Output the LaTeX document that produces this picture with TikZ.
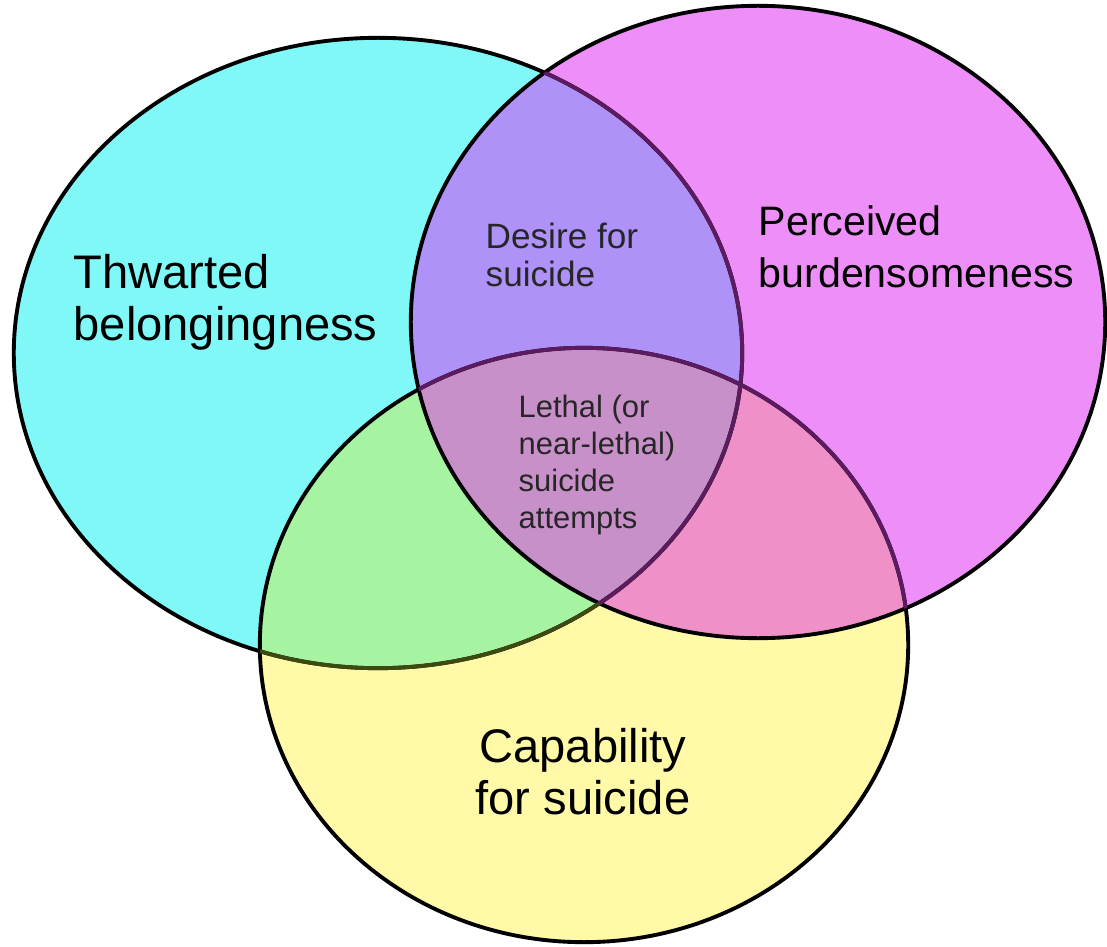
\documentclass[tikz,border=0pt]{standalone}
\usepackage{fontspec}
\setmainfont{Liberation Sans}
\usetikzlibrary{positioning}
\definecolor{belongcol}{HTML}{80F8F8}
\definecolor{burdencol}{HTML}{EE8EF8}
\definecolor{capabcol}{HTML}{FFF9A8}
\definecolor{desirecol}{HTML}{AE92F8}
\definecolor{greencol}{HTML}{A6F4A2}
\definecolor{pinkcol}{HTML}{F090C8}
\definecolor{lethalcol}{HTML}{C890C8}
\definecolor{rimpurple}{HTML}{5C1A60}
\definecolor{rimolive}{HTML}{3C4A10}

\begin{document}
\begin{tikzpicture}[x=0.01cm, y=-0.01cm, every node/.style={inner sep=0pt, anchor=north west, align=left}]
\tikzset{rim/.style={draw=black, line width=1.1pt}}
\tikzset{bigtext/.style={font=\fontsize{13.4}{14.8}\selectfont}}
\tikzset{midtext/.style={font=\fontsize{11.7}{14.8}\selectfont}}
\tikzset{smalltext/.style={font=\fontsize{10}{11}\selectfont, text=black!85}}
\tikzset{tinytext/.style={font=\fontsize{8.8}{10.6}\selectfont, text=black!85}}
\useasboundingbox (0,0) rectangle (1107,946);
\def\belong{(378,353) ellipse [x radius=3.64cm, y radius=3.15cm]}
\def\burden{(758,322) ellipse [x radius=3.47cm, y radius=3.16cm]}
\def\capab{(584,645) ellipse [x radius=3.24cm, y radius=2.97cm]}
% three sets
\fill[belongcol] \belong;
\fill[burdencol] \burden;
\fill[capabcol] \capab;
% overlaps
\begin{scope}
  \clip \belong;
  \fill[desirecol] \burden;
  \fill[greencol] \capab;
\end{scope}
\begin{scope}
  \clip \burden;
  \fill[pinkcol] \capab;
\end{scope}
\begin{scope}
  \clip \belong; \clip \burden;
  \fill[lethalcol] \capab;
\end{scope}
% outlines, tinted where they cross other sets
\draw[rim] \belong;
\draw[rim] \burden;
\draw[rim] \capab;
\begin{scope}
  \clip \capab;
  \draw[rim, draw=rimolive] \belong;
\end{scope}
\begin{scope}
  \clip \burden;
  \draw[rim, draw=rimpurple] \belong;
  \draw[rim, draw=rimpurple] \capab;
\end{scope}
% labels
\node[bigtext] (tb) at (73,254) {Thwarted\\belongingness};
\node[midtext] (pb) at (758,205) {Perceived\\burdensomeness};
\node[smalltext] (ds) at (485,222) {Desire for\\suicide};
\node[tinytext] (ls) at (518,394) {Lethal (or\\near-lethal)\\suicide\\attempts};
\node[bigtext, anchor=center, align=center] (cs) at (583,772) {Capability\\for suicide};
\end{tikzpicture}
\end{document}
